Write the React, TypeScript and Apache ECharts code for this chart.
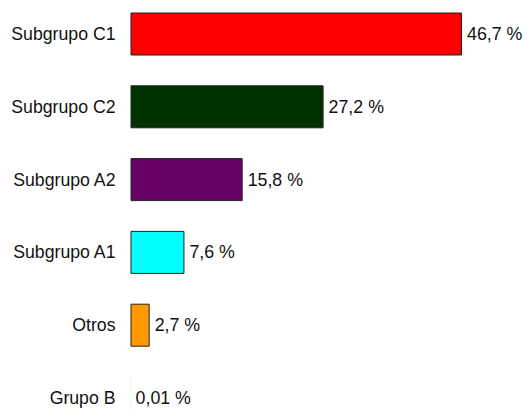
import React, { useEffect, useRef } from "react";
import * as echarts from "echarts";

const categories = ["Subgrupo C1", "Subgrupo C2", "Subgrupo A2", "Subgrupo A1", "Otros", "Grupo B"];
const values = [46.7, 27.2, 15.8, 7.6, 2.7, 0.01];
const colors = ["#FF0000", "#003300", "#660066", "#00FFFF", "#FF9900", "#3366FF"];

const FONT = "'Liberation Sans', Arial, sans-serif";

export default function App() {
  const ref = useRef<HTMLDivElement>(null);
  useEffect(() => {
    if (!ref.current) return;
    const chart = echarts.init(ref.current, undefined, { renderer: "svg" });
    chart.setOption({
      animation: false,
      backgroundColor: "#FFFFFF",
      grid: { left: 130.5, right: 67, top: 34, bottom: 11, containLabel: false },
      xAxis: {
        type: "value",
        min: 0,
        max: 46.7,
        show: false,
      },
      yAxis: {
        type: "category",
        data: categories,
        inverse: true,
        boundaryGap: false,
        axisLine: { show: false },
        axisTick: { show: false },
        splitLine: { show: false },
        axisLabel: {
          margin: 15,
          color: "#111111",
          fontSize: 17.7,
          fontFamily: FONT,
        },
      },
      series: [
        {
          type: "bar",
          barWidth: 43,
          data: values.map((v, i) => ({
            value: v,
            itemStyle: {
              color: colors[i],
              borderColor: "#222222",
              borderWidth: v < 0.1 ? 0 : 1,
            },
          })),
          label: {
            show: true,
            position: "right",
            distance: 5,
            color: "#111111",
            fontSize: 17.8,
            fontFamily: FONT,
            formatter: (p: any) => String(p.value).replace(".", ",") + " %",
          },
        },
      ],
    });
    return () => chart.dispose();
  }, []);
  return (
    <div
      ref={ref}
      style={{ position: "absolute", left: 0, top: 0, width: 529, height: 409 }}
    />
  );
}
